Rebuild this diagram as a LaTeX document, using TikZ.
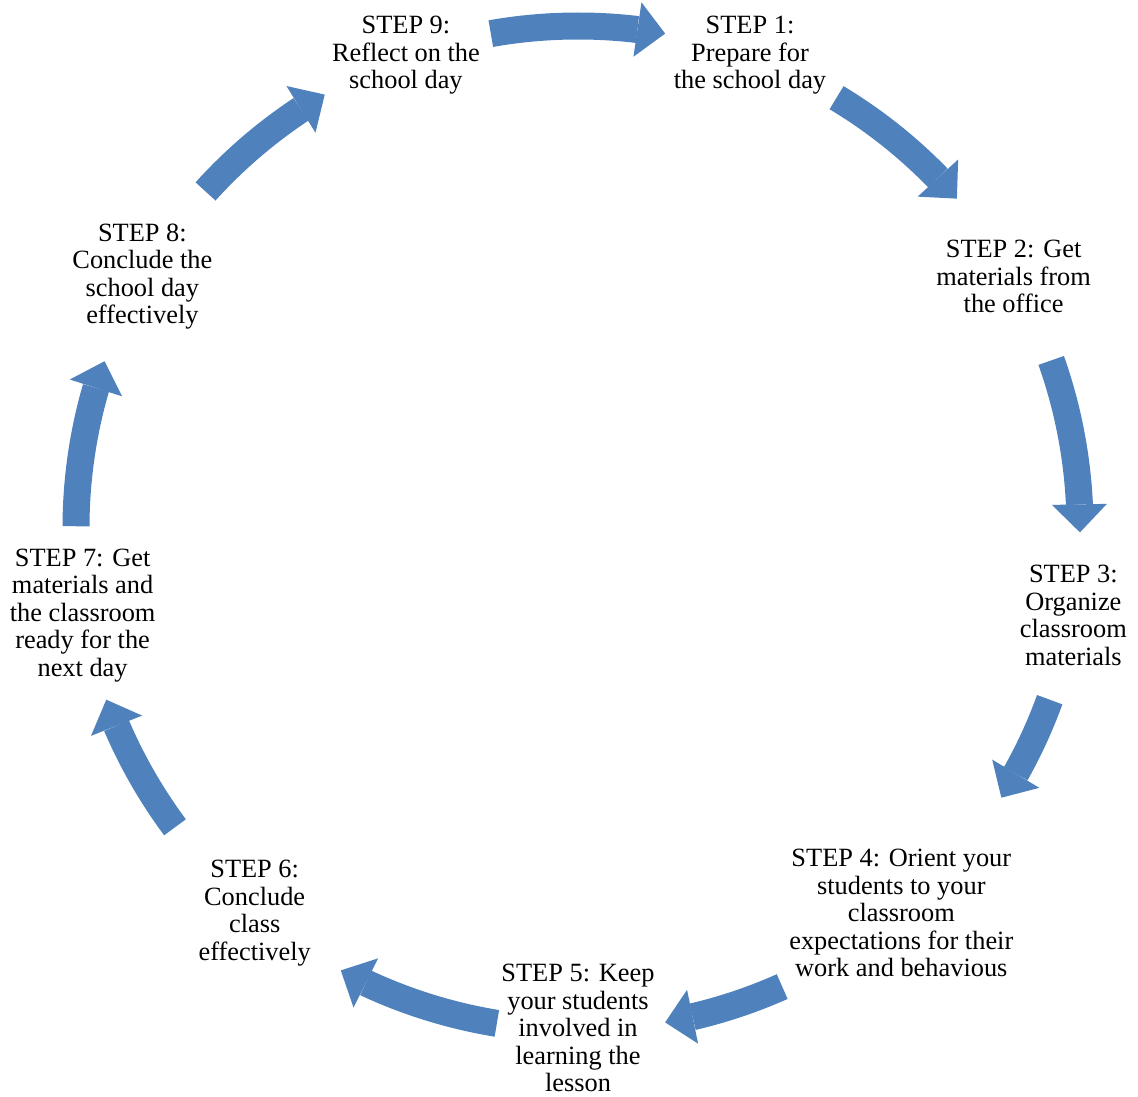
\documentclass[tikz,border=0pt]{standalone}
\usepackage{fontspec}
\setmainfont{Liberation Serif}
\usetikzlibrary{arrows.meta,bending}
\definecolor{cycleblue}{HTML}{4F81BD}

\begin{document}
\begin{tikzpicture}
		[x=0.2mm,y=0.2mm,
		steptext/.style={align=center,inner sep=0pt,
			font=\fontsize{15}{15.65}\selectfont},
		cyclearrow/.style={draw=cycleblue,line width=5.4mm,looseness=0.86,
			-{Triangle[length=5.6mm,width=11mm,line width=0pt,flex]}}]
		
		\useasboundingbox (-578,-569) rectangle (560,528);
		
		% the nine steps round the circle
		\node[steptext] (step1) at (70:503) {STEP 1:\\Prepare for\\the school day};
		\node[steptext] (step2) at (30:503) {STEP 2: Get\\materials from\\the office};
		\node[steptext] (step3) at (-10:503) {STEP 3:\\Organize\\classroom\\materials};
		\node[steptext] (step4) at (-50:503) {STEP 4: Orient your\\students to your\\classroom\\expectations for their\\work and behavious};
		\node[steptext] (step5) at (-90:500) {STEP 5: Keep\\your students\\involved in\\learning the\\lesson};
		\node[steptext] (step6) at (-130:503) {STEP 6:\\Conclude\\class\\effectively};
		\node[steptext] (step7) at (-170:503) {STEP 7: Get\\materials and\\the classroom\\ready for the\\next day};
		\node[steptext] (step8) at (150:503) {STEP 8:\\Conclude the\\school day\\effectively};
		\node[steptext] (step9) at (110:503) {STEP 9:\\Reflect on the\\school day};
		
		% ends of the arrows
		\coordinate (t91) at (100:502);
		\coordinate (h91) at (80:502);
		\coordinate (t12) at (59:502);
		\coordinate (h12) at (41:502);
		\coordinate (t23) at (19.5:502);
		\coordinate (h23) at (-0.5:502);
		\coordinate (t34) at (-20:502);
		\coordinate (h34) at (-32.5:502);
		\coordinate (t45) at (-66:502);
		\coordinate (h45) at (-80:502);
		\coordinate (t56) at (-99.3:502);
		\coordinate (h56) at (-118.2:502);
		\coordinate (t67) at (-143.4:502);
		\coordinate (h67) at (-160:502);
		\coordinate (t78) at (179.8:502);
		\coordinate (h78) at (160.6:502);
		\coordinate (t89) at (137.9:502);
		\coordinate (h89) at (120.3:502);
		
		\draw[cyclearrow] (t91) to[bend left=10] (h91);
		\draw[cyclearrow] (t12) to[bend left=9] (h12);
		\draw[cyclearrow] (t23) to[bend left=10] (h23);
		\draw[cyclearrow] (t34) to[bend left=6.25] (h34);
		\draw[cyclearrow] (t45) to[bend left=7] (h45);
		\draw[cyclearrow] (t56) to[bend left=9.45] (h56);
		\draw[cyclearrow] (t67) to[bend left=8.3] (h67);
		\draw[cyclearrow] (t78) to[bend left=9.6] (h78);
		\draw[cyclearrow] (t89) to[bend left=8.8] (h89);
	
	\end{tikzpicture}
\end{document}
